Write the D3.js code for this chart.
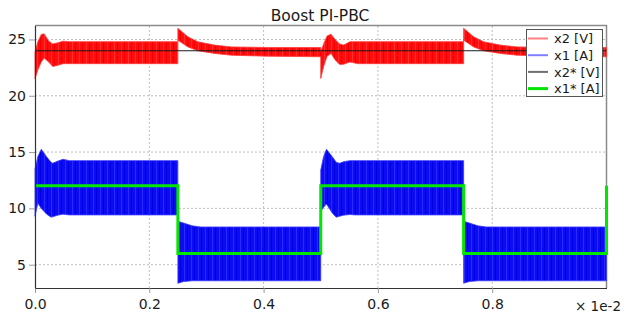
<!DOCTYPE html>
<html>
<head>
<meta charset="utf-8">
<script src="https://cdn.jsdelivr.net/npm/d3@7"></script>
<style>
  body { margin: 0; background: #fff; }
  svg { display: block; font-family: "DejaVu Sans", sans-serif; }
</style>
</head>
<body>
<script>
// time in units of 1e-2 s
var xTicks = [0.0, 0.2, 0.4, 0.6, 0.8];
var xTickLabels = ["0.0", "0.2", "0.4", "0.6", "0.8"];
var yTicks = [5, 10, 15, 20, 25];

// x2 [V] ripple envelope (upper / lower)
var x2Time  = [0, 0.005, 0.011, 0.016, 0.024, 0.031, 0.04, 0.049, 0.06, 0.25,
               0.25, 0.2676, 0.285, 0.314, 0.3436, 0.402, 0.5,
               0.5, 0.505, 0.511, 0.518, 0.525, 0.533, 0.54, 0.551, 0.565, 0.75,
               0.75, 0.7676, 0.785, 0.814, 0.8436, 0.902, 1.0];
var x2Upper = [23.9, 24.8, 25.45, 25.5, 24.85, 24.6, 24.7, 24.85, 24.8, 24.8,
               25.99, 25.23, 24.79, 24.5, 24.34, 24.29, 24.29,
               23.9, 24.6, 25.3, 25.47, 25.0, 24.6, 24.5, 24.8, 24.8, 24.8,
               25.99, 25.23, 24.79, 24.5, 24.34, 24.29, 24.29];
var x2Lower = [21.5, 22.3, 23.0, 23.35, 23.0, 22.6, 22.7, 22.85, 22.85, 22.85,
               24.94, 24.34, 23.99, 23.76, 23.6, 23.52, 23.46,
               21.54, 22.6, 23.5, 23.76, 23.2, 22.78, 22.8, 23.0, 22.85, 22.85,
               24.94, 24.34, 23.99, 23.76, 23.6, 23.52, 23.46];

// x1 [A] ripple envelope (upper / lower)
var x1Time  = [0, 0.005, 0.011, 0.02, 0.028, 0.031, 0.04, 0.049, 0.06, 0.25,
               0.25, 0.26, 0.275, 0.29, 0.5,
               0.5, 0.505, 0.51, 0.52, 0.527, 0.533, 0.54, 0.551, 0.56, 0.75,
               0.75, 0.76, 0.775, 0.79, 1.0];
var x1Upper = [13.5, 14.6, 15.25, 14.6, 14.1, 14.01, 14.2, 14.36, 14.24, 14.24,
               8.85, 8.7, 8.45, 8.35, 8.35,
               13.4, 14.6, 15.25, 14.6, 14.1, 14.0, 14.15, 14.24, 14.24, 14.24,
               8.85, 8.7, 8.45, 8.35, 8.35];
var x1Lower = [9.3, 10.46, 10.0, 9.5, 9.22, 9.25, 9.4, 9.49, 9.42, 9.42,
               3.35, 3.5, 3.57, 3.57, 3.57,
               9.72, 10.1, 10.4, 9.6, 9.22, 9.3, 9.4, 9.45, 9.42, 9.42,
               3.35, 3.5, 3.57, 3.57, 3.57];

// references
var x2RefTime = [0, 1.0];
var x2Ref = [24, 24];
var x1RefTime = [0, 0.25, 0.5, 0.75, 1.0];
var x1Ref = [12, 6, 12, 6, 12];

var legendNames = ["x2 [V]", "x1 [A]", "x2* [V]", "x1* [A]"];
var legendColors = ["#ff8080", "#8080ff", "#707070", "#00e600"];
var legendWidths = [2, 2, 2, 3];

var width = 630, height = 320;
var margin = {top: 25.5, right: 23.5, bottom: 32, left: 35};

var x = d3.scaleLinear().domain([0, 1]).range([margin.left, width - margin.right]);
var y = d3.scaleLinear().domain([2.93, 26.24]).range([height - margin.bottom, margin.top]);

var svg = d3.select("body").append("svg")
    .attr("width", width)
    .attr("height", height);

var defs = svg.append("defs");
function stripes(id, base, light, dark) {
  var p = defs.append("pattern")
      .attr("id", id)
      .attr("width", 7).attr("height", 10)
      .attr("patternUnits", "userSpaceOnUse");
  p.append("rect").attr("width", 7).attr("height", 10).attr("fill", base);
  p.append("rect").attr("x", 2).attr("width", 1).attr("height", 10).attr("fill", light);
  p.append("rect").attr("x", 5).attr("width", 1).attr("height", 10).attr("fill", dark);
}
stripes("redFill", "#ff0d0d", "#ff3030", "#f00000");
stripes("blueFill", "#0c0cf4", "#2a2aff", "#0000e0");

// grid
svg.append("g").selectAll("line")
    .data(xTicks.slice(1))
  .enter().append("line")
    .attr("x1", function(d) { return x(d); })
    .attr("x2", function(d) { return x(d); })
    .attr("y1", y.range()[0])
    .attr("y2", y.range()[1])
    .attr("stroke", "#bdbdbd")
    .attr("stroke-dasharray", "2,2");

svg.append("g").selectAll("line")
    .data(yTicks)
  .enter().append("line")
    .attr("x1", x.range()[0])
    .attr("x2", x.range()[1])
    .attr("y1", function(d) { return y(d); })
    .attr("y2", function(d) { return y(d); })
    .attr("stroke", "#bdbdbd")
    .attr("stroke-dasharray", "2,2");

// frame: top and right
svg.append("path")
    .attr("d", "M" + x.range()[0] + "," + y.range()[1] + "H" + x.range()[1] + "V" + y.range()[0])
    .attr("fill", "none")
    .attr("stroke", "#8a8a8a")
    .attr("stroke-width", 1.5);

function band(times, up, lo) {
  return d3.area()
      .x(function(d, i) { return x(times[i]); })
      .y0(function(d, i) { return y(lo[i]); })
      .y1(function(d, i) { return y(up[i]); })(times);
}

svg.append("path")
    .attr("d", band(x2Time, x2Upper, x2Lower))
    .attr("fill", "url(#redFill)")
    .attr("stroke", "#ff3a3a")
    .attr("stroke-width", 0.8);

svg.append("path")
    .attr("d", band(x1Time, x1Upper, x1Lower))
    .attr("fill", "url(#blueFill)")
    .attr("stroke", "#3a3aff")
    .attr("stroke-width", 0.8);

var refLine = function(times, vals, curve) {
  return d3.line()
      .x(function(d, i) { return x(times[i]); })
      .y(function(d, i) { return y(vals[i]); })
      .curve(curve)(times);
};

svg.append("path")
    .attr("d", refLine(x2RefTime, x2Ref, d3.curveLinear))
    .attr("fill", "none")
    .attr("stroke", "#1a1a1a")
    .attr("stroke-width", 1.2);

svg.append("path")
    .attr("d", refLine(x1RefTime, x1Ref, d3.curveStepAfter))
    .attr("fill", "none")
    .attr("stroke", "#00e600")
    .attr("stroke-width", 3);

// axes
var xAxis = svg.append("g")
    .attr("transform", "translate(0," + y.range()[0] + ")")
    .call(d3.axisBottom(x).tickValues(xTicks)
      .tickFormat(function(d, i) { return xTickLabels[i]; })
      .tickSizeInner(5).tickSizeOuter(0).tickPadding(6));

var yAxis = svg.append("g")
    .attr("transform", "translate(" + x.range()[0] + ",0)")
    .call(d3.axisLeft(y).tickValues(yTicks)
      .tickSizeInner(6).tickSizeOuter(0).tickPadding(3));

[xAxis, yAxis].forEach(function(g) {
  g.select(".domain").attr("stroke", "#333").attr("stroke-width", 1.2);
  g.selectAll(".tick line").attr("stroke", "#999");
  g.selectAll(".tick text")
      .attr("fill", "#1a1a1a")
      .style("font-size", "14px")
      .style("font-family", "DejaVu Sans, sans-serif");
});

svg.append("text")
    .attr("x", 598)
    .attr("y", 311)
    .attr("text-anchor", "middle")
    .attr("fill", "#1a1a1a")
    .style("font-size", "13.5px")
    .text("\u00d7 1e-2");

svg.append("text")
    .attr("x", 320)
    .attr("y", 21)
    .attr("text-anchor", "middle")
    .attr("fill", "#1a1a1a")
    .style("font-size", "15.5px")
    .text("Boost PI-PBC");

// legend
var legend = svg.append("g").attr("transform", "translate(526,29)");
legend.append("rect")
    .attr("x", 0.5).attr("y", 0.5)
    .attr("width", 76).attr("height", 67)
    .attr("fill", "#fff")
    .attr("stroke", "#555");

var items = legend.selectAll(".item")
    .data(legendNames)
  .enter().append("g")
    .attr("class", "item")
    .attr("transform", function(d, i) { return "translate(0," + (9.5 + i * 16.7) + ")"; });

items.append("line")
    .attr("x1", 2).attr("x2", 22)
    .attr("stroke", function(d, i) { return legendColors[i]; })
    .attr("stroke-width", function(d, i) { return legendWidths[i]; });

items.append("text")
    .attr("x", 28)
    .attr("dy", "0.36em")
    .attr("fill", "#1a1a1a")
    .style("font-size", "13px")
    .text(function(d) { return d; });
</script>
</body>
</html>
